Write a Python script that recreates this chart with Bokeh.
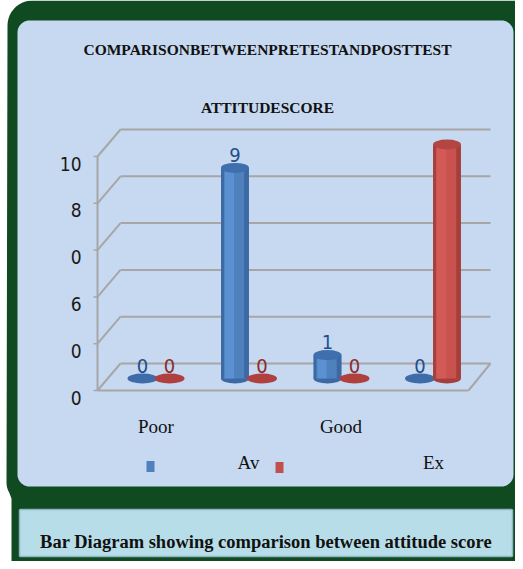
import numpy as np
from bokeh.plotting import figure
from bokeh.models import Range1d
from bokeh.core.properties import value
from bokeh.embed import file_html
from bokeh.resources import INLINE

# ---------------- data ----------------
categories = ["Poor", "Av", "Good", "Ex"]
pretest = [0, 9, 1, 0]
posttest = [0, 0, 0, 10]
pretest_label_shown = [True, True, True, True]
posttest_label_shown = [True, True, True, False]
y_ticks = [0, 2, 4, 6, 8, 10]
y_tick_labels = ["0", "0", "6", "0", "8", "10"]
title_lines = ["COMPARISONBETWEENPRETESTANDPOSTTEST", "ATTITUDESCORE"]
caption = "Bar Diagram showing comparison between attitude score"

# ---------------- layout helpers (page pixels -> data units) ----------------
W, H = 515, 561
X0, XS = 163.5, 92.5     # page x of category 0, px per category
Y0, YS = 386.0, 23.4     # page y of value 0, px per value unit
NUM_FONT = value("DejaVu Sans Condensed")


def X(px):
    return (px - X0) / XS


def Y(py):
    return (Y0 - py) / YS


p = figure(width=W, height=H, output_backend="svg", toolbar_location=None,
           x_range=Range1d(X(8), X(8 + W)), y_range=Range1d(Y(8 + H), Y(8)),
           x_axis_location=None, y_axis_location=None, min_border=0,
           background_fill_color="white", border_fill_color="white")
p.outline_line_color = None
p.grid.visible = False


def arc(cx, cy, r, a0, a1, n=12):
    t = np.linspace(np.radians(a0), np.radians(a1), n)
    return list(cx + r * np.cos(t)), list(cy - r * np.sin(t))


def rrect(x0, y0, x1, y1, r):
    xs, ys = [], []
    for cx, cy, a0, a1 in [(x1 - r, y0 + r, 90, 0), (x1 - r, y1 - r, 0, -90),
                           (x0 + r, y1 - r, 270, 180), (x0 + r, y0 + r, 180, 90)]:
        ax, ay = arc(cx, cy, r, a0, a1)
        xs += ax
        ys += ay
    return xs, ys


# green frame
gx, gy = [], []
ax_, ay_ = arc(40, 33, 25, 180, 90)
gx += ax_; gy += ay_
gx += [530, 530, 19, 19]; gy += [8, 580, 580, 506]
ax_, ay_ = arc(34, 490, 20, 270 - 60, 180, 6)
gx += ax_; gy += ay_
p.patch([X(v) for v in gx], [Y(v) for v in gy], fill_color="#0F4A21", line_color=None)

# light blue panel
px_, py_ = rrect(25, 28, 521, 494, 12)
p.patch([X(v) for v in px_], [Y(v) for v in py_], fill_color="#C6D9F0", line_color=None)

# caption box
cx_, cy_ = rrect(27, 517, 520, 564, 1)
p.patch([X(v) for v in cx_], [Y(v) for v in cy_], fill_color="#B7DEE8",
        line_color="#8DB3C4", line_width=1.5)

# ---------------- 3D walls / grid ----------------
front_x, back_x, back_right, floor_right = X(105), X(128), X(498), X(476)
front_dy, back_dy = Y(398), Y(371)
grid_col = "#A6A6A6"
bt = [t + back_dy for t in y_ticks]
ft = [t + front_dy for t in y_ticks]
p.segment(x0=[back_x] * len(bt), y0=bt, x1=[back_right] * len(bt), y1=bt,
          line_color=grid_col, line_width=2)
p.segment(x0=[front_x] * len(ft), y0=ft, x1=[back_x] * len(bt), y1=bt,
          line_color=grid_col, line_width=2)
p.segment(x0=[front_x, front_x, floor_right], y0=[ft[0], ft[0], ft[0]],
          x1=[front_x, floor_right, back_right], y1=[ft[-1], ft[0], bt[0]],
          line_color=grid_col, line_width=2)
p.segment(x0=[X(101)] * len(ft), y0=ft, x1=[front_x] * len(ft), y1=ft,
          line_color=grid_col, line_width=1.5)
p.text(x=[X(89)] * len(ft), y=ft, text=y_tick_labels, text_align="right",
       text_baseline="middle", y_offset=7, text_font=NUM_FONT,
       text_font_size="19px", text_color="#1a1a1a")

# ---------------- cylinders ----------------
off = 0.146
bw = 0.30


def cylinders(xs, vals, shown, body, light, dark, top, flat, label_col):
    nz = [i for i, v in enumerate(vals) if v > 0]
    zx = [xs[i] for i in range(len(vals)) if vals[i] == 0]
    zv = [vals[i] for i in range(len(vals)) if vals[i] == 0]
    bx = [xs[i] for i in nz]
    bv = [vals[i] for i in nz]
    # flat discs for zero values
    p.ellipse(x=zx, y=zv, width=30, height=10, width_units="screen",
              height_units="screen", fill_color=flat, line_color=None)
    # bodies
    p.ellipse(x=bx, y=[0] * len(bx), width=28, height=10, width_units="screen",
              height_units="screen", fill_color=dark, line_color=None)
    p.vbar(x=bx, top=bv, bottom=0, width=bw, fill_color=body, line_color=None)
    p.vbar(x=[v - 0.135 for v in bx], top=bv, bottom=0, width=0.03,
           fill_color=dark, line_color=None)
    p.vbar(x=[v - 0.06 for v in bx], top=bv, bottom=0, width=0.10,
           fill_color=light, line_color=None, fill_alpha=0.8)
    p.vbar(x=[v + 0.125 for v in bx], top=bv, bottom=0, width=0.05,
           fill_color=dark, line_color=None)
    p.ellipse(x=bx, y=bv, width=28, height=10, width_units="screen",
              height_units="screen", fill_color=top, line_color=None)
    lx = [xs[i] for i in range(len(vals)) if shown[i]]
    lv = [vals[i] for i in range(len(vals)) if shown[i]]
    p.text(x=lx, y=lv, text=[str(v) for v in lv], text_align="center",
           text_baseline="bottom", y_offset=-6,
           text_font=NUM_FONT, text_font_size="20px",
           text_color=label_col)


xb = [i - off for i in range(len(categories))]
xr = [i + off for i in range(len(categories))]
cylinders(xb, pretest, pretest_label_shown,
          "#4F81BD", "#5E93D6", "#3C68A3", "#3F6FAD", "#3D6CA8", "#1F4E8C")
cylinders(xr, posttest, posttest_label_shown,
          "#C9524F", "#D65D59", "#A53F3C", "#B34643", "#B0403D", "#8E2B2B")

# ---------------- category labels (staggered) & legend keys ----------------
rows = [Y(434) if i % 2 == 0 else Y(470) for i in range(len(categories))]
p.text(x=list(range(len(categories))), y=rows, text=categories, text_align="center",
       text_baseline="middle", text_font=value("Liberation Serif"),
       text_font_size="19px", text_color="#111111")
p.rect(x=[X(158), X(287)], y=[Y(474), Y(475)], width=8, height=11,
       width_units="screen", height_units="screen",
       fill_color=["#4F81BD", "#C0504D"], line_color=None)

# ---------------- titles ----------------
p.text(x=[X(275), X(275)], y=[Y(57), Y(115)], text=title_lines, text_align="center",
       text_baseline="middle", text_font=value("Liberation Serif"),
       text_font_style="bold", text_font_size="15.5px", text_color="#111111")
p.text(x=[X(273.5)], y=[Y(549)], text=[caption], text_align="center",
       text_baseline="middle", text_font=value("Liberation Serif"),
       text_font_style="bold", text_font_size="18.5px", text_color="#111111")

open("out.html", "w").write(file_html(p, INLINE))
